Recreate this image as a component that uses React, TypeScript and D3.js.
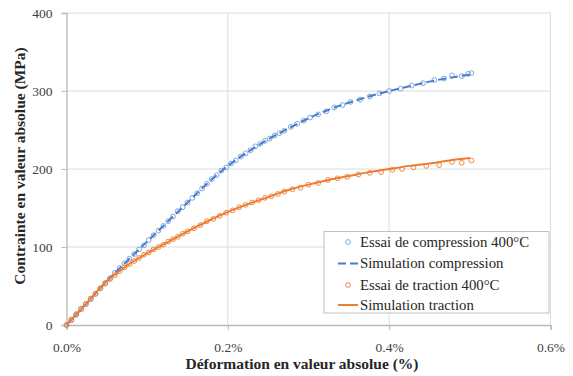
import React, { useEffect, useRef } from "react";
import * as d3 from "d3";

// strain (%) and stress (MPa)
const compExpStrain = [0.000,0.006,0.012,0.018,0.024,0.030,0.036,0.042,0.048,0.054,0.060,0.066,0.072,0.078,0.084,0.090,0.096,0.102,0.108,0.114,0.120,0.126,0.132,0.138,0.144,0.150,0.156,0.162,0.168,0.174,0.180,0.186,0.192,0.198,0.204,0.210,0.216,0.222,0.228,0.234,0.240,0.246,0.252,0.258,0.264,0.270,0.278,0.286,0.294,0.302,0.312,0.322,0.332,0.342,0.352,0.364,0.376,0.388,0.400,0.414,0.428,0.442,0.456,0.468,0.478,0.490,0.498,0.502];
const compExpStress = [0,6,13,21,27,33,40,47,54,60,67,73,79,85,91,97,102,109,115,121,127,133,139,146,151,157,163,169,175,181,187,192,198,202,207,211,216,220,224,229,232,236,239,243,246,249,254,258,262,266,270,274,279,282,286,289,293,297,300,303,307,310,314,316,320,319,322,323];

const tracExpStrain = [0.000,0.006,0.012,0.018,0.024,0.030,0.036,0.042,0.048,0.054,0.060,0.066,0.072,0.078,0.084,0.090,0.096,0.102,0.108,0.114,0.120,0.126,0.132,0.138,0.144,0.150,0.158,0.166,0.174,0.182,0.190,0.198,0.206,0.214,0.222,0.230,0.238,0.246,0.254,0.262,0.270,0.280,0.290,0.300,0.312,0.324,0.336,0.348,0.362,0.376,0.390,0.404,0.416,0.430,0.446,0.462,0.478,0.490,0.502];
const tracExpStress = [0,7,14,20,27,34,40,47,53,59,64,69,74,78,82,86,90,93,97,100,103,107,110,113,117,120,124,128,133,136,140,144,147,151,154,157,160,163,165,168,171,174,176,180,182,186,188,190,193,195,196,199,200,202,204,205,209,208,211];

const simStrain = [0,0.025,0.05,0.075,0.1,0.125,0.15,0.175,0.2,0.225,0.25,0.275,0.3,0.325,0.35,0.375,0.4,0.425,0.45,0.475,0.5];
const simCompStress = [0,28,56,82,107,132,157,182,204,222,238,252,265,276,285,293,300,306,312,317,321];
const simTracStress = [0,28,56,76,92,106,120,133,145,155,164,173,180,186,191,196,200,204,207,211,214];

const xTicks = [0, 0.2, 0.4, 0.6];
const yTicks = [0, 100, 200, 300, 400];

const legendLabels = [
  "Essai de compression 400°C",
  "Simulation compression",
  "Essai de traction 400°C",
  "Simulation traction",
];

const BLUE_M = "#6f9fd8";
const BLUE_L = "#4a7ccc";
const ORANGE = "#ed7d31";
const FONT = "'Liberation Serif', 'Times New Roman', serif";

export default function App() {
  const ref = useRef<SVGSVGElement>(null);

  useEffect(() => {
    const svg = d3.select(ref.current);
    svg.selectAll("*").remove();
    const x = d3.scaleLinear().domain([0, 0.6]).range([66.5, 550.5]);
    const y = d3.scaleLinear().domain([0, 400]).range([325, 13]);

    // grid
    const g = svg.append("g");
    g.selectAll(".vg").data(xTicks.slice(1)).enter().append("line")
      .attr("x1", d => x(d)).attr("x2", d => x(d)).attr("y1", y(0)).attr("y2", y(400))
      .attr("stroke", "#dcdcdc").attr("stroke-width", 1);
    g.selectAll(".hg").data(yTicks.slice(1)).enter().append("line")
      .attr("x1", x(0)).attr("x2", x(0.6)).attr("y1", d => y(d)).attr("y2", d => y(d))
      .attr("stroke", "#dcdcdc").attr("stroke-width", 1);

    // axes
    const xa = svg.append("g").attr("transform", `translate(0,${y(0)})`)
      .call(d3.axisBottom(x).tickValues(xTicks).tickSize(5).tickPadding(12)
        .tickFormat(d => d3.format(".1f")(d as number) + "%"));
    const ya = svg.append("g").attr("transform", `translate(${x(0)},0)`)
      .call(d3.axisLeft(y).tickValues(yTicks).tickSize(5).tickPadding(9)
        .tickFormat(d3.format("d")));
    [xa, ya].forEach(a => {
      a.select(".domain").attr("stroke", "#b8b8b8").attr("stroke-width", 1.3);
      a.selectAll(".tick line").attr("stroke", "#b8b8b8");
      a.selectAll(".tick text").attr("font-family", FONT).attr("font-size", 13.5).attr("fill", "#404040");
    });

    // titles
    svg.append("text").attr("x", 302).attr("y", 369).attr("text-anchor", "middle")
      .attr("font-family", FONT).attr("font-weight", "bold").attr("font-size", 15.5).attr("fill", "#262626")
      .text("Déformation en valeur absolue (%)");
    svg.append("text").attr("transform", `translate(25,166) rotate(-90)`).attr("text-anchor", "middle")
      .attr("font-family", FONT).attr("font-weight", "bold").attr("font-size", 15.5).attr("fill", "#262626")
      .text("Contrainte en valeur absolue (MPa)");

    const plot = svg.append("g");
    const line = d3.line<number>().x((_, i) => x(simStrain[i])).curve(d3.curveMonotoneX);

    // experimental markers
    plot.selectAll(".cm").data(compExpStrain).enter().append("circle")
      .attr("cx", d => x(d)).attr("cy", (_, i) => y(compExpStress[i])).attr("r", 2.4)
      .attr("fill", "none").attr("stroke", BLUE_M).attr("stroke-width", 0.9);
    plot.selectAll(".tm").data(tracExpStrain).enter().append("circle")
      .attr("cx", d => x(d)).attr("cy", (_, i) => y(tracExpStress[i])).attr("r", 2.4)
      .attr("fill", "none").attr("stroke", ORANGE).attr("stroke-width", 0.9);

    plot.append("path").attr("d", line.y(d => y(d))(simCompStress) as string)
      .attr("fill", "none").attr("stroke", BLUE_L).attr("stroke-width", 2)
      .attr("stroke-dasharray", "8,4");
    plot.append("path").attr("d", line.y(d => y(d))(simTracStress) as string)
      .attr("fill", "none").attr("stroke", ORANGE).attr("stroke-width", 2);

    // legend
    const lg = svg.append("g");
    lg.append("rect").attr("x", 324).attr("y", 231.5).attr("width", 225).attr("height", 81.5)
      .attr("fill", "#fff").attr("stroke", "#c0c0c0").attr("stroke-width", 1);
    const ly = [242, 263.5, 285, 305];
    legendLabels.forEach((t, i) => {
      const yy = ly[i];
      if (i === 0 || i === 2) {
        lg.append("circle").attr("cx", 348).attr("cy", yy).attr("r", 2.4)
          .attr("fill", "none").attr("stroke", i === 0 ? BLUE_M : ORANGE).attr("stroke-width", 0.9);
      } else {
        lg.append("line").attr("x1", 338).attr("x2", 358).attr("y1", yy).attr("y2", yy)
          .attr("stroke", i === 1 ? BLUE_L : ORANGE).attr("stroke-width", 2)
          .attr("stroke-dasharray", i === 1 ? "8,4" : null);
      }
      lg.append("text").attr("x", 360).attr("y", yy + 4.5).attr("font-family", FONT)
        .attr("font-size", 14.8).attr("fill", "#262626").text(t);
    });
  }, []);

  return (
    <svg ref={ref} width={573} height={376}
      style={{ position: "absolute", left: 0, top: 0, background: "#fff" }} />
  );
}
